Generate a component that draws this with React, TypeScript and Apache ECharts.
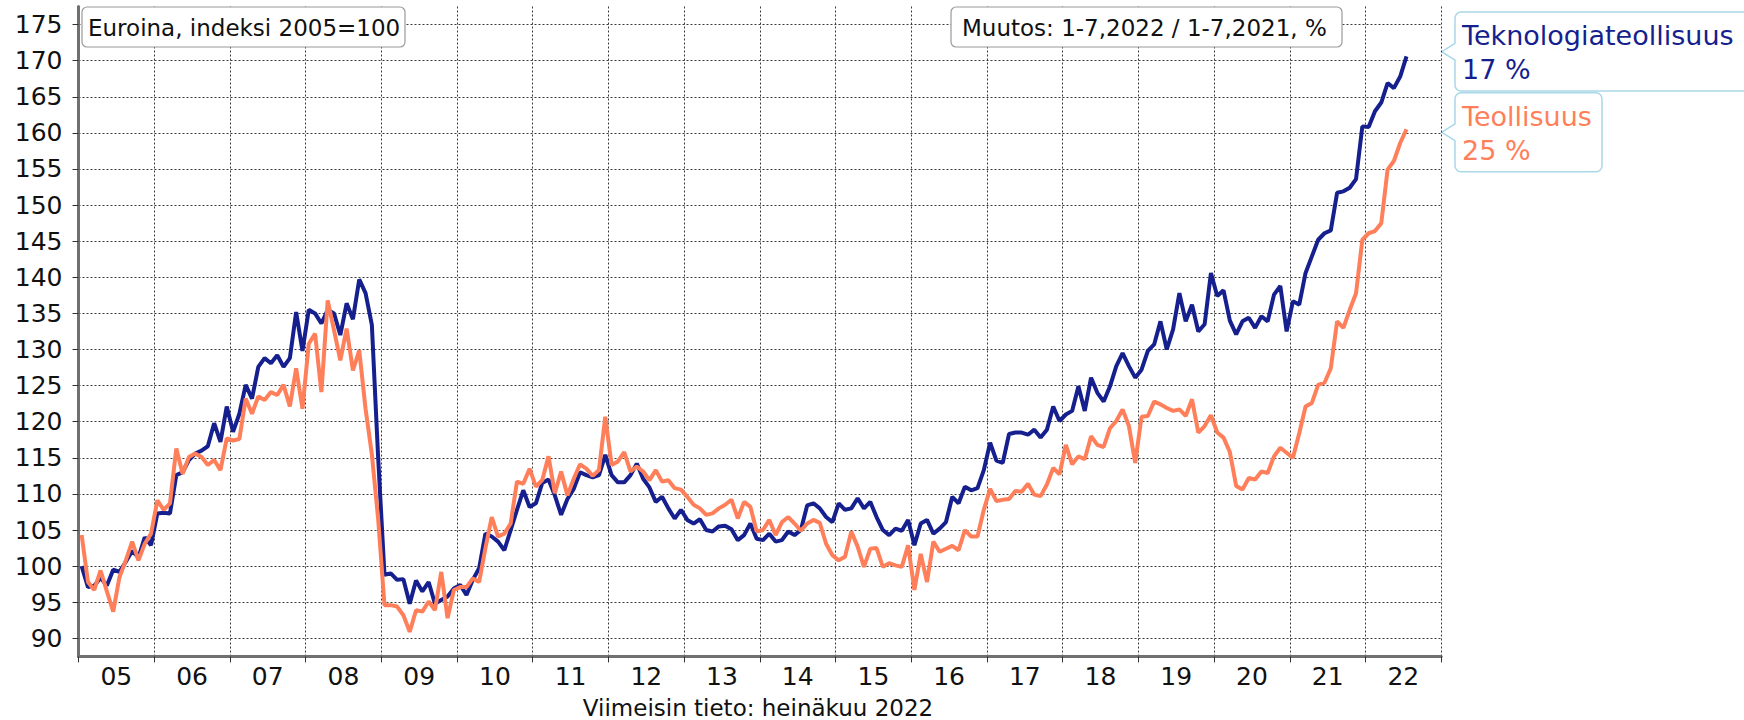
import React, { useEffect, useRef } from 'react';
import * as echarts from 'echarts';

// ---------------- data ----------------
const yearLabels = ['05', '06', '07', '08', '09', '10', '11', '12', '13', '14', '15', '16', '17', '18', '19', '20', '21', '22'];
const yTicks = [90, 95, 100, 105, 110, 115, 120, 125, 130, 135, 140, 145, 150, 155, 160, 165, 170, 175];

const seriesNames = ['Teknologiateollisuus', 'Teollisuus'];
const changeLabels = ['17 %', '25 %'];
const titleText = 'Euroina, indeksi 2005=100';
const changeTitle = 'Muutos: 1-7,2022 / 1-7,2021, %';
const footerText = 'Viimeisin tieto: heinäkuu 2022';

// monthly index values, Jan 2005 .. Jul 2022
const teknologiateollisuus = [
  100.0, 97.1, 97.3, 98.4, 97.3, 99.5, 99.2, 100.6, 102.1, 101.2, 104.0, 102.9, // 2005
  107.3, 107.4, 107.3, 112.6, 113.0, 114.7, 115.6, 116.0, 116.6, 119.8, 117.2, 122.1, // 2006
  118.6, 121.1, 125.1, 123.2, 127.6, 128.8, 128.1, 129.2, 127.6, 128.8, 135.2, 129.8, // 2007
  135.5, 135.0, 133.6, 135.5, 135.0, 132.0, 136.4, 134.2, 139.7, 137.8, 133.4, 115.0, // 2008
  98.8, 99.0, 98.1, 98.2, 94.8, 98.0, 96.5, 97.8, 94.8, 95.3, 95.8, 96.9, // 2009
  97.4, 96.0, 98.1, 99.7, 104.5, 104.1, 103.4, 102.2, 105.0, 107.8, 110.5, 108.2, // 2010
  108.7, 111.5, 112.0, 109.8, 107.1, 109.3, 110.7, 113.0, 112.6, 112.3, 112.6, 115.4, // 2011
  112.6, 111.6, 111.6, 112.6, 114.2, 112.1, 110.9, 108.9, 109.6, 108.0, 106.6, 107.8, // 2012
  106.4, 105.9, 106.5, 105.0, 104.8, 105.5, 105.6, 105.1, 103.6, 104.3, 105.9, 103.8, // 2013
  103.6, 104.5, 103.4, 103.6, 104.8, 104.3, 105.0, 108.4, 108.7, 108.0, 106.8, 106.1, // 2014
  108.7, 107.8, 108.0, 109.4, 108.0, 108.9, 106.8, 105.0, 104.3, 105.2, 104.9, 106.4, // 2015
  102.9, 105.9, 106.4, 104.5, 105.2, 106.1, 109.6, 108.7, 111.0, 110.5, 110.8, 113.3, // 2016
  117.1, 114.6, 114.3, 118.3, 118.5, 118.5, 118.2, 118.9, 117.8, 118.9, 122.1, 120.1, // 2017
  121.0, 121.5, 124.9, 121.5, 126.1, 124.0, 122.8, 124.9, 127.7, 129.5, 127.7, 126.1, // 2018
  127.2, 129.8, 130.7, 133.9, 130.0, 132.8, 137.8, 133.9, 136.2, 132.5, 133.5, 140.6, // 2019
  137.4, 138.2, 134.0, 132.1, 133.9, 134.4, 133.0, 134.6, 133.9, 137.6, 138.8, 132.5, // 2020
  136.7, 136.2, 140.6, 142.9, 145.2, 146.1, 146.5, 151.7, 151.9, 152.4, 153.6, 160.9, // 2021
  160.8, 163.0, 164.2, 166.9, 166.2, 167.8, 170.6, // 2022
];

const teollisuus = [
  104.3, 97.8, 96.7, 99.4, 96.5, 93.7, 98.5, 100.8, 103.4, 100.8, 103.1, 104.5, // 2005
  109.1, 107.8, 108.7, 116.3, 112.8, 115.1, 115.6, 115.1, 114.0, 114.7, 113.3, 117.7, // 2006
  117.4, 117.6, 123.2, 121.1, 123.5, 123.0, 124.1, 123.7, 125.1, 122.1, 127.4, 121.8, // 2007
  130.8, 132.2, 124.1, 136.8, 132.7, 128.5, 132.9, 127.1, 129.9, 121.8, 115.5, 106.5, // 2008
  94.6, 94.6, 94.4, 93.2, 90.9, 93.9, 93.7, 95.1, 93.9, 99.2, 92.8, 96.7, // 2009
  97.1, 97.1, 98.3, 97.8, 102.5, 106.8, 104.1, 104.5, 105.9, 111.7, 111.4, 113.5, // 2010
  111.0, 111.9, 115.2, 110.1, 113.1, 109.8, 112.1, 114.1, 113.5, 112.5, 113.3, 120.7, // 2011
  114.0, 114.5, 115.8, 113.1, 113.8, 113.1, 111.9, 113.3, 111.7, 111.9, 110.8, 110.6, // 2012
  109.6, 108.5, 108.0, 107.1, 107.3, 108.0, 108.5, 109.2, 106.6, 108.9, 108.2, 104.8, // 2013
  105.0, 106.4, 104.3, 106.1, 106.8, 105.9, 104.9, 105.9, 106.4, 106.0, 103.1, 101.5, // 2014
  100.8, 101.3, 104.8, 102.7, 99.9, 102.4, 102.5, 99.9, 100.4, 100.1, 99.9, 102.9, // 2015
  96.7, 101.7, 97.8, 103.4, 102.0, 102.4, 102.8, 102.2, 105.0, 104.1, 104.1, 107.8, // 2016
  110.7, 109.0, 109.2, 109.3, 110.4, 110.3, 111.4, 109.9, 109.7, 111.3, 113.6, 112.7, // 2017
  116.8, 114.1, 115.2, 114.8, 118.0, 116.8, 116.5, 119.1, 120.1, 121.7, 119.4, 114.3, // 2018
  120.7, 120.8, 122.8, 122.4, 121.9, 121.5, 121.7, 120.8, 123.1, 118.5, 119.4, 120.9, // 2019
  118.5, 117.8, 115.8, 111.1, 110.6, 112.2, 112.0, 113.1, 112.9, 115.2, 116.4, 115.7, // 2020
  115.0, 118.4, 122.1, 122.6, 125.1, 125.4, 127.4, 133.9, 133.0, 135.5, 137.8, 145.2, // 2021
  146.1, 146.4, 147.5, 154.9, 156.1, 158.6, 160.5, // 2022
];

// month categories (Jan 2005 .. Dec 2022)
const monthCategories: string[] = [];
for (let y = 2005; y <= 2022; y++) {
  for (let m = 1; m <= 12; m++) monthCategories.push(`${y}-${m < 10 ? '0' + m : m}`);
}

const FONT = '"DejaVu Sans", Verdana, sans-serif';
const BLUE = '#161f8e';
const ORANGE = '#ff7f5a';
const CALLOUT_BORDER = '#a9d8e8';
const GRID_LINE = { color: '#3a3a3a', type: [2, 2] as number[], width: 1 };

function textEl(text: string, x: number, y: number, size: number, fill: string, align = 'left') {
  return {
    type: 'text',
    x,
    y,
    silent: true,
    style: {
      text,
      font: `${size}px ${FONT}`,
      fill,
      textAlign: align,
      align,
      textVerticalAlign: 'middle',
      verticalAlign: 'middle',
    },
  };
}

function callout(top: number, height: number, width: number, tipY: number, lines: string[], color: string) {
  const bx = 1455;
  const tx = 1441.7;
  return [
    {
      type: 'rect',
      silent: true,
      shape: { x: bx, y: top, width, height, r: 6 },
      style: { fill: '#fff', stroke: CALLOUT_BORDER, lineWidth: 1.5 },
    },
    {
      type: 'polygon',
      silent: true,
      shape: { points: [[bx + 1.2, tipY - 8.4], [tx, tipY], [bx + 1.2, tipY + 8.4]] },
      style: { fill: '#fff' },
    },
    {
      type: 'polyline',
      silent: true,
      shape: { points: [[bx, tipY - 8.4], [tx, tipY], [bx, tipY + 8.4]] },
      style: { stroke: CALLOUT_BORDER, lineWidth: 1.5, fill: null },
    },
    textEl(lines[0], 1462, top + 23.5, 27, color),
    textEl(lines[1], 1462, top + 57.5, 27, color),
  ];
}

export default function App() {
  const ref = useRef<HTMLDivElement>(null);

  useEffect(() => {
    if (!ref.current) return;
    const chart = echarts.init(ref.current, null, { renderer: 'svg' });

    const option: any = {
      animation: false,
      backgroundColor: '#ffffff',
      grid: {
        left: 78.5,
        right: 302.8,
        top: 6.5,
        bottom: 63.6,
        containLabel: false,
        outerBoundsMode: 'none',
      },
      xAxis: [
        {
          type: 'category',
          data: monthCategories,
          boundaryGap: true,
          position: 'bottom',
          axisLine: { show: true, onZero: false, lineStyle: { color: '#707070', width: 3 } },
          axisTick: { show: true, interval: 11, length: 6, lineStyle: { color: '#333', width: 1 } },
          axisLabel: { show: false },
          splitLine: { show: true, interval: 11, lineStyle: GRID_LINE },
        },
        {
          type: 'category',
          data: yearLabels,
          boundaryGap: true,
          position: 'bottom',
          axisLine: { show: false },
          axisTick: { show: false },
          splitLine: { show: false },
          axisLabel: { show: true, interval: 0, fontSize: 25, color: '#111', fontFamily: FONT, margin: 8 },
        },
      ],
      yAxis: {
        type: 'value',
        min: 87.5,
        max: 177.5,
        axisLine: { show: true, lineStyle: { color: '#707070', width: 3 } },
        axisTick: { show: true, customValues: yTicks, length: 6, lineStyle: { color: '#333', width: 1 } },
        axisLabel: { show: true, customValues: yTicks, fontSize: 25, color: '#111', fontFamily: FONT, margin: 16 },
        splitLine: { show: true, lineStyle: GRID_LINE },
      },
      series: [
        {
          name: seriesNames[0],
          type: 'line',
          xAxisIndex: 0,
          data: teknologiateollisuus,
          showSymbol: false,
          symbol: 'none',
          lineStyle: { color: BLUE, width: 4 },
          itemStyle: { color: BLUE },
          z: 3,
        },
        {
          name: seriesNames[1],
          type: 'line',
          xAxisIndex: 0,
          data: teollisuus,
          showSymbol: false,
          symbol: 'none',
          lineStyle: { color: ORANGE, width: 4 },
          itemStyle: { color: ORANGE },
          z: 4,
        },
      ],
      graphic: [
        {
          type: 'rect',
          silent: true,
          shape: { x: 82, y: 7, width: 323, height: 40, r: 5 },
          style: { fill: '#fff', stroke: '#9a9a9a', lineWidth: 1.2 },
          z: 10,
        },
        { ...textEl(titleText, 88, 27.5, 23, '#111'), z: 11 },
        {
          type: 'rect',
          silent: true,
          shape: { x: 951, y: 7, width: 391, height: 40, r: 5 },
          style: { fill: '#fff', stroke: '#9a9a9a', lineWidth: 1.2 },
          z: 10,
        },
        { ...textEl(changeTitle, 962, 27.5, 23, '#111'), z: 11 },
        ...callout(12, 79, 330, 51.7, [seriesNames[0], changeLabels[0]], BLUE),
        ...callout(92.7, 79, 147, 132.3, [seriesNames[1], changeLabels[1]], ORANGE),
        textEl(footerText, 758, 708, 23, '#111', 'center'),
      ],
    };

    chart.setOption(option);
    return () => {
      chart.dispose();
    };
  }, []);

  return (
    <div
      ref={ref}
      style={{ position: 'absolute', left: 0, top: 0, width: 1744, height: 720, background: '#fff' }}
    />
  );
}
